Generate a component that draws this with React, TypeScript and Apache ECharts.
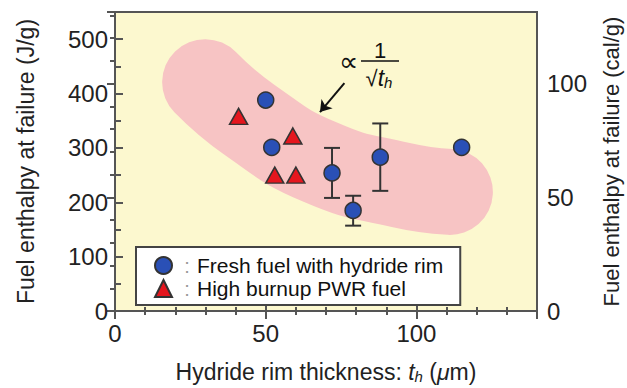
import React, { useEffect, useRef } from "react";
import * as echarts from "echarts";

const FONT = "Liberation Sans";

// Fresh fuel with hydride rim (blue circles)
const freshX = [50, 52, 72, 79, 88, 115];
const freshY = [388, 301, 254, 185, 283, 301];
// error bars on some fresh fuel points
const errX = [72, 79, 88];
const errLow = [208, 157, 221];
const errHigh = [300, 212, 345];
// High burnup PWR fuel (red triangles)
const pwrX = [41, 59, 53, 60];
const pwrY = [358, 322, 250, 250];
// centre line of the pink trend band (∝ 1/sqrt(t_h))
const bandX = [29.9, 44.8, 68.0, 94.6, 111.1];
const bandY = [421, 351, 274, 232, 219];
// arrow pointing to the band
const arrowFrom = [76.1, 419];
const arrowTo = [68.0, 366];

const seriesNames = ["Fresh fuel with hydride rim", "High burnup PWR fuel"];
const J_PER_CAL = 4.184;
const yMaxJ = 550;
const xMax = 140;

export default function App() {
  const ref = useRef<HTMLDivElement>(null);
  useEffect(() => {
    if (!ref.current) return;
    const chart = echarts.init(ref.current, undefined, { renderer: "svg" });
    const axisColor = "#555";
    const labelStyle = { fontFamily: FONT, fontSize: 24, color: "#222" };
    const option: any = {
      animation: false,
      backgroundColor: "#fff",
      textStyle: { fontFamily: FONT },
      grid: {
        left: 115,
        right: 90,
        top: 12,
        bottom: 77,
        outerBoundsMode: "none",
        containLabel: false,
        show: true,
        backgroundColor: "#fcf8cf",
        borderColor: axisColor,
        borderWidth: 2,
      },
      legend: {
        data: seriesNames,
        orient: "vertical",
        left: 136,
        top: 247,
        backgroundColor: "#fff",
        borderColor: "#444",
        borderWidth: 2,
        borderRadius: 0,
        padding: [8, 17, 6, 18],
        itemWidth: 17,
        itemHeight: 17,
        itemGap: 2,
        selectedMode: false,
        formatter: (name: string) => `{c|:}{n|${name}}`,
        textStyle: {
          rich: {
            c: { color: "#999", fontSize: 20, width: 20, align: "center", lineHeight: 20, fontFamily: FONT },
            n: { color: "#111", fontSize: 21, lineHeight: 20, fontFamily: FONT },
          },
        },
      },
      xAxis: [
        {
          type: "value",
          min: 0,
          max: xMax,
          interval: 50,
          position: "bottom",
          name: "Hydride rim thickness: {i|t}{s|h} ({i|μ}m)",
          nameLocation: "middle",
          nameGap: 48,
          nameTextStyle: {
            fontFamily: FONT,
            fontSize: 23,
            color: "#222",
            rich: {
              i: { fontFamily: FONT, fontSize: 23, fontStyle: "italic", color: "#222" },
              s: { fontFamily: FONT, fontSize: 15, fontStyle: "italic", color: "#222", padding: [10, 0, 0, 0] },
            },
          },
          axisLine: { show: true, lineStyle: { color: axisColor, width: 2 } },
          axisTick: { show: true, inside: true, length: 8, lineStyle: { color: axisColor, width: 2 } },
          minorTick: { show: true, splitNumber: 5, length: 4, lineStyle: { color: axisColor, width: 2 } },
          axisLabel: { ...labelStyle, margin: 10, formatter: (v: number) => (v % 50 === 0 ? String(v) : "") },
          splitLine: { show: false },
        },
        {
          type: "value",
          min: 0,
          max: xMax,
          interval: 50,
          position: "top",
          axisLine: { show: true, lineStyle: { color: axisColor, width: 2 } },
          axisTick: { show: true, inside: true, length: 8, lineStyle: { color: axisColor, width: 2 } },
          minorTick: { show: true, splitNumber: 5, length: 4, lineStyle: { color: axisColor, width: 2 } },
          axisLabel: { show: false },
          splitLine: { show: false },
        },
      ],
      yAxis: [
        {
          type: "value",
          min: 0,
          max: yMaxJ,
          interval: 100,
          position: "left",
          name: "Fuel enthalpy at failure (J/g)",
          nameLocation: "middle",
          nameRotate: 90,
          nameGap: 78,
          nameTextStyle: { fontFamily: FONT, fontSize: 23, color: "#222" },
          axisLine: { show: true, lineStyle: { color: axisColor, width: 2 } },
          axisTick: { show: true, inside: true, length: 8, lineStyle: { color: axisColor, width: 2 } },
          minorTick: { show: true, splitNumber: 2, length: 6, lineStyle: { color: axisColor, width: 2 } },
          axisLabel: { ...labelStyle, margin: 7, formatter: (v: number) => (v % 100 === 0 ? String(v) : "") },
          splitLine: { show: false },
        },
        {
          type: "value",
          min: 0,
          max: yMaxJ / J_PER_CAL,
          interval: 50,
          position: "right",
          name: "Fuel enthalpy at failure (cal/g)",
          nameLocation: "middle",
          nameRotate: 90,
          nameGap: 63,
          nameTextStyle: { fontFamily: FONT, fontSize: 22, color: "#222" },
          axisLine: { show: true, lineStyle: { color: axisColor, width: 2 } },
          axisTick: { show: true, inside: true, length: 8, lineStyle: { color: axisColor, width: 2 } },
          minorTick: { show: true, splitNumber: 5, length: 5, lineStyle: { color: axisColor, width: 2 } },
          axisLabel: { ...labelStyle, margin: 10, formatter: (v: number) => (Math.abs(v % 50) < 1e-6 ? String(v) : "") },
          splitLine: { show: false },
        },
      ],
      series: [
        {
          name: "band",
          type: "line",
          xAxisIndex: 0,
          yAxisIndex: 0,
          data: bandX.map((x, i) => [x, bandY[i]]),
          smooth: 0.5,
          symbol: "none",
          silent: true,
          z: 1,
          lineStyle: { width: 86, color: "#f7c4c4", cap: "round", join: "round" },
          markLine: {
            silent: true,
            symbol: ["none", "arrow"],
            symbolSize: 11,
            label: { show: false },
            lineStyle: { color: "#111", width: 2, type: "solid" },
            data: [[{ coord: arrowFrom }, { coord: arrowTo }]],
          },
        },
        {
          name: "errors",
          type: "custom",
          xAxisIndex: 0,
          yAxisIndex: 0,
          z: 2,
          silent: true,
          data: errX.map((x, i) => [x, errLow[i], errHigh[i]]),
          encode: { x: 0, y: [1, 2] },
          renderItem: (params: any, api: any) => {
            const x = api.value(0);
            const lo = api.coord([x, api.value(1)]);
            const hi = api.coord([x, api.value(2)]);
            const w = 8;
            const style = { stroke: "#333", lineWidth: 2 };
            return {
              type: "group",
              children: [
                { type: "line", shape: { x1: hi[0], y1: hi[1], x2: lo[0], y2: lo[1] }, style },
                { type: "line", shape: { x1: hi[0] - w, y1: hi[1], x2: hi[0] + w, y2: hi[1] }, style },
                { type: "line", shape: { x1: lo[0] - w, y1: lo[1], x2: lo[0] + w, y2: lo[1] }, style },
              ],
            };
          },
        },
        {
          name: seriesNames[0],
          type: "scatter",
          xAxisIndex: 0,
          yAxisIndex: 0,
          z: 3,
          symbol: "circle",
          symbolSize: 16,
          itemStyle: { color: "#2a50b6", borderColor: "#333", borderWidth: 1.5, opacity: 1 },
          data: freshX.map((x, i) => [x, freshY[i]]),
        },
        {
          name: seriesNames[1],
          type: "scatter",
          xAxisIndex: 0,
          yAxisIndex: 0,
          z: 3,
          symbol: "triangle",
          symbolSize: [18, 16],
          itemStyle: { color: "#e5161e", borderColor: "#333", borderWidth: 1.5, opacity: 1 },
          data: pwrX.map((x, i) => [x, pwrY[i]]),
        },
      ],
      graphic: [
        {
          type: "text",
          x: 348,
          y: 62,
          style: { text: "∝", fontFamily: FONT, fontSize: 27, fill: "#111", align: "center", verticalAlign: "middle" },
        },
        {
          type: "text",
          x: 380,
          y: 50,
          style: { text: "1", fontFamily: FONT, fontSize: 22, fill: "#111", align: "center", verticalAlign: "middle" },
        },
        {
          type: "line",
          shape: { x1: 361, y1: 61, x2: 399, y2: 61 },
          style: { stroke: "#111", lineWidth: 1.5 },
        },
        {
          type: "text",
          x: 379,
          y: 78,
          style: {
            text: "{r|√}{t|t}{s|h}",
            align: "center",
            verticalAlign: "middle",
            rich: {
              r: { fontFamily: FONT, fontSize: 22, fill: "#111" },
              t: { fontFamily: FONT, fontSize: 23, fontStyle: "italic", fill: "#111" },
              s: { fontFamily: FONT, fontSize: 15, fontStyle: "italic", fill: "#111", padding: [8, 0, 0, 0] },
            },
          },
        },
      ],
    };
    chart.setOption(option);
    return () => chart.dispose();
  }, []);
  return <div ref={ref} style={{ width: 627, height: 388, position: "absolute", left: 0, top: 0 }} />;
}
